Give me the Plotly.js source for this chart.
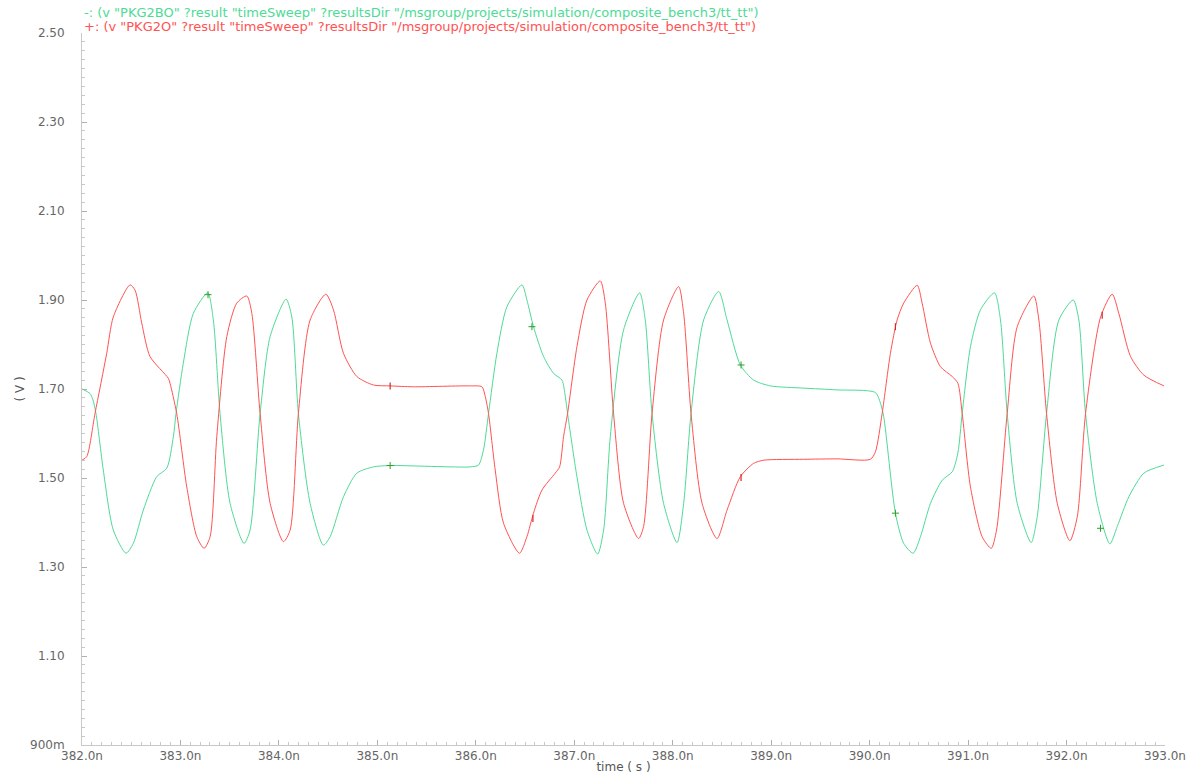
<!DOCTYPE html>
<html>
<head>
<meta charset="utf-8">
<script src="https://cdn.plot.ly/plotly-3.0.1.min.js"></script>
<style>html,body{margin:0;padding:0;background:#fff;}#chart{width:1200px;height:780px;}</style>
</head>
<body>
<div id="chart"></div>
<script>
// PKG2BO (green) time in ns, voltage in V
const greenT = [382.000,382.081,382.112,382.142,382.216,382.318,382.447,382.521,382.623,382.759,382.861,382.928,382.955,383.029,383.131,383.277,383.334,383.402,383.504,383.646,383.707,383.809,383.911,384.073,384.131,384.198,384.317,384.452,384.520,384.656,384.792,384.960,385.130,385.943,386.027,386.078,386.129,386.214,386.316,386.469,386.519,386.586,386.688,386.790,386.875,386.909,386.932,387.027,387.129,387.237,387.298,387.366,387.501,387.664,387.721,387.790,387.907,388.044,388.111,388.186,388.314,388.467,388.552,388.687,388.822,388.992,389.330,389.670,390.059,390.110,390.143,390.262,390.346,390.442,390.516,390.618,390.737,390.839,390.896,390.940,391.024,391.126,391.268,391.329,391.397,391.499,391.641,391.702,391.797,391.922,392.068,392.125,392.193,392.312,392.440,392.515,392.633,392.786,392.989];
const greenV = [1.700,1.690,1.675,1.645,1.518,1.383,1.331,1.353,1.428,1.503,1.522,1.593,1.645,1.758,1.870,1.916,1.855,1.645,1.443,1.353,1.383,1.645,1.818,1.902,1.862,1.645,1.443,1.349,1.368,1.458,1.511,1.525,1.528,1.525,1.529,1.563,1.645,1.780,1.885,1.934,1.900,1.840,1.773,1.735,1.720,1.683,1.645,1.503,1.383,1.329,1.383,1.593,1.833,1.916,1.855,1.645,1.443,1.355,1.443,1.645,1.855,1.919,1.855,1.754,1.720,1.707,1.702,1.698,1.692,1.668,1.638,1.421,1.353,1.331,1.368,1.443,1.495,1.514,1.556,1.645,1.795,1.878,1.916,1.855,1.645,1.443,1.355,1.413,1.645,1.855,1.900,1.855,1.645,1.443,1.352,1.391,1.458,1.511,1.529];

// PKG2O (red)
const redT = [382.000,382.048,382.132,382.251,382.318,382.488,382.539,382.607,382.691,382.877,382.894,382.962,383.064,383.166,383.240,383.301,383.369,383.471,383.572,383.674,383.725,383.809,383.911,384.046,384.114,384.198,384.317,384.477,384.554,384.656,384.792,384.960,385.130,385.367,385.943,386.062,386.096,386.129,386.197,386.282,386.444,386.519,386.586,386.672,386.807,386.851,386.891,386.932,387.027,387.129,387.264,387.315,387.399,387.501,387.653,387.704,387.790,387.907,388.060,388.111,388.186,388.298,388.450,388.552,388.687,388.822,388.924,389.330,389.670,390.008,390.059,390.127,390.211,390.279,390.346,390.483,390.533,390.618,390.720,390.839,390.896,390.940,391.024,391.143,391.235,391.289,391.397,391.499,391.668,391.719,391.797,391.906,392.034,392.109,392.193,392.346,392.464,392.531,392.650,392.786,392.989];
const redV = [1.540,1.548,1.645,1.780,1.862,1.934,1.922,1.848,1.773,1.724,1.713,1.645,1.480,1.368,1.342,1.368,1.593,1.818,1.893,1.909,1.870,1.645,1.443,1.357,1.383,1.645,1.855,1.913,1.878,1.780,1.728,1.709,1.707,1.705,1.707,1.705,1.683,1.645,1.518,1.398,1.331,1.368,1.421,1.473,1.511,1.525,1.593,1.645,1.795,1.900,1.943,1.893,1.645,1.443,1.364,1.391,1.645,1.855,1.930,1.870,1.645,1.443,1.364,1.428,1.503,1.533,1.540,1.542,1.543,1.542,1.559,1.645,1.780,1.855,1.893,1.933,1.893,1.803,1.750,1.728,1.713,1.645,1.480,1.368,1.342,1.383,1.645,1.840,1.909,1.855,1.645,1.443,1.359,1.413,1.645,1.862,1.913,1.870,1.773,1.731,1.707];

// symbol markers on the curves
const greenMarkT = [383.280,385.130,386.570,388.694,390.262,392.345];
const greenMarkV = [1.912,1.528,1.840,1.754,1.421,1.387];
const redMarkT = [385.130,386.580,388.694,390.262,392.362];
const redMarkV = [1.707,1.409,1.501,1.840,1.866];

const xTickVals = [382,383,384,385,386,387,388,389,390,391,392,393];
const xTickText = ["382.0n","383.0n","384.0n","385.0n","386.0n","387.0n","388.0n","389.0n","390.0n","391.0n","392.0n","393.0n"];
const yTickVals = [0.9,1.1,1.3,1.5,1.7,1.9,2.1,2.3,2.5];
const yTickText = ["900m","1.10","1.30","1.50","1.70","1.90","2.10","2.30","2.50"];

const legendGreen = '-: (v "PKG2BO" ?result "timeSweep" ?resultsDir "/msgroup/projects/simulation/composite_bench3/tt_tt")';
const legendRed = '+: (v "PKG2O" ?result "timeSweep" ?resultsDir "/msgroup/projects/simulation/composite_bench3/tt_tt")';

const GREEN = '#4ddb95';
const RED = '#ff5252';
const FONT = 'DejaVu Sans, Verdana, sans-serif';

const traces = [
  {x: greenT, y: greenV, type: 'scatter', mode: 'lines', name: 'PKG2BO',
   line: {color: GREEN, width: 1, shape: 'spline', smoothing: 0.7}},
  {x: redT, y: redV, type: 'scatter', mode: 'lines', name: 'PKG2O',
   line: {color: RED, width: 1, shape: 'spline', smoothing: 0.7}},
  {x: greenMarkT, y: greenMarkV, type: 'scatter', mode: 'markers', showlegend: false, hoverinfo: 'skip',
   marker: {symbol: 'cross-thin-open', size: 5, line: {color: GREEN, width: 1}}},
  {x: redMarkT, y: redMarkV, type: 'scatter', mode: 'markers', showlegend: false, hoverinfo: 'skip',
   marker: {symbol: 'line-ns-open', size: 5, line: {color: RED, width: 1.2}}}
];

const layout = {
  width: 1200, height: 780,
  margin: {l: 82, r: 35, t: 33, b: 35},
  paper_bgcolor: '#ffffff', plot_bgcolor: '#ffffff',
  showlegend: false,
  font: {family: FONT, color: '#666', size: 12},
  xaxis: {
    range: [382, 393], showgrid: false, zeroline: false,
    showline: true, linecolor: '#c8c8c8', linewidth: 1,
    ticks: 'inside', ticklen: 5, tickcolor: '#b0b0b0', tickwidth: 1,
    tickvals: xTickVals, ticktext: xTickText,
    tickfont: {family: FONT, size: 12, color: '#666'},
    ticklabelstandoff: 0,
    minor: {dtick: 0.1, ticks: 'inside', ticklen: 3, tickcolor: '#c8c8c8', showgrid: false},
    title: {text: 'time ( s )', font: {family: FONT, size: 12, color: '#555'}, standoff: 0}
  },
  yaxis: {
    range: [0.9, 2.5], showgrid: false, zeroline: false,
    showline: true, linecolor: '#c8c8c8', linewidth: 1,
    ticks: 'inside', ticklen: 5, tickcolor: '#b0b0b0', tickwidth: 1,
    tickvals: yTickVals, ticktext: yTickText,
    tickfont: {family: FONT, size: 12, color: '#666'},
    ticklabelstandoff: 14,
    minor: {dtick: 0.02, ticks: 'inside', ticklen: 3, tickcolor: '#c8c8c8', showgrid: false},
    title: {text: '( V )', font: {family: FONT, size: 12, color: '#555'}, standoff: 2}
  },
  annotations: [
    {text: legendGreen, xref: 'paper', yref: 'paper', x: 0.0, y: 1.0, yshift: 21, xanchor: 'left', yanchor: 'middle',
     showarrow: false, font: {family: FONT, size: 13, color: GREEN}},
    {text: legendRed, xref: 'paper', yref: 'paper', x: 0.0, y: 1.0, yshift: 7, xanchor: 'left', yanchor: 'middle',
     showarrow: false, font: {family: FONT, size: 13, color: RED}}
  ]
};

Plotly.newPlot('chart', traces, layout, {displayModeBar: false, staticPlot: true});
</script>
</body>
</html>
